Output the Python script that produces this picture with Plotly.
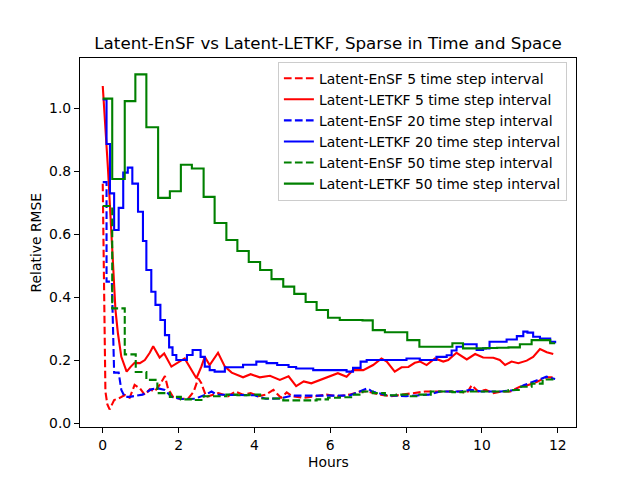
import plotly.graph_objects as go

# ─── data (hours, relative RMSE) ─────────────
# Latent-EnSF, 5 time step interval (dashed red)
ensf5_x = [0.0, 0.02, 0.04, 0.07, 0.12, 0.18, 0.3, 0.45, 0.58, 0.71,
           0.84, 0.98, 1.11, 1.24, 1.37, 1.5, 1.64, 1.72, 1.85, 2.03,
           2.25, 2.4, 2.52, 2.6, 2.73, 2.9, 3.05, 3.3, 3.5, 3.7,
           3.9, 4.1, 4.3, 4.5, 4.7, 4.85, 5.0, 5.3, 5.6, 5.9,
           6.2, 6.5, 6.8, 7.0, 7.3, 7.6, 7.9, 8.2, 8.5, 8.8,
           9.1, 9.4, 9.6, 9.73, 9.9, 10.1, 10.3, 10.5, 10.75, 11.0,
           11.2, 11.44, 11.7, 11.93]
ensf5_y = [0.76, 0.55, 0.25, 0.1, 0.06, 0.043, 0.073, 0.08, 0.089, 0.08,
           0.121, 0.11, 0.089, 0.107, 0.1, 0.121, 0.149, 0.11, 0.083, 0.077,
           0.077, 0.1, 0.142, 0.126, 0.083, 0.09, 0.095, 0.085, 0.1, 0.09,
           0.095, 0.085, 0.09, 0.105, 0.08, 0.097, 0.085, 0.08, 0.085, 0.09,
           0.085, 0.09, 0.1, 0.1, 0.09, 0.085, 0.09, 0.095, 0.1, 0.1,
           0.1, 0.1, 0.095, 0.12, 0.1, 0.105, 0.095, 0.1, 0.1, 0.115,
           0.12, 0.13, 0.145, 0.145]

# Latent-LETKF, 5 time step interval (solid red)
letkf5_x = [0.0, 0.14, 0.335, 0.36, 0.4, 0.49, 0.63, 0.74, 0.84, 0.98,
            1.11, 1.24, 1.33, 1.5, 1.62, 1.81, 2.03, 2.16, 2.34, 2.47,
            2.6, 2.69, 2.82, 3.04, 3.22, 3.4, 3.7, 3.9,
            4.14, 4.41, 4.67, 4.9, 5.1, 5.3, 5.5, 5.73, 5.99, 6.2,
            6.43, 6.6, 6.87, 7.13, 7.35, 7.49, 7.7, 7.88, 8.06, 8.23,
            8.37, 8.54, 8.76, 8.98, 9.11, 9.33, 9.6, 9.82, 10.03, 10.3,
            10.47, 10.61, 10.78, 10.96, 11.18, 11.35, 11.53, 11.71, 11.88]
letkf5_y = [1.07, 0.803, 0.359, 0.33, 0.285, 0.21, 0.163, 0.179, 0.191, 0.19,
            0.2, 0.223, 0.244, 0.208, 0.221, 0.179, 0.195, 0.205, 0.168, 0.142,
            0.179, 0.21, 0.184, 0.223, 0.179, 0.16, 0.145, 0.155,
            0.145, 0.15, 0.137, 0.148, 0.117, 0.132, 0.126, 0.137, 0.15, 0.158,
            0.147, 0.168, 0.168, 0.184, 0.205, 0.195, 0.163, 0.177, 0.178, 0.191,
            0.195, 0.184, 0.205, 0.195, 0.2, 0.223, 0.202, 0.219, 0.208, 0.207,
            0.2, 0.184, 0.195, 0.19, 0.198, 0.21, 0.235, 0.225, 0.219]

# Latent-EnSF, 20 time step interval (dashed blue)
ensf20_x = [0.0, 0.1, 0.1, 0.24, 0.3, 0.42, 0.49, 0.58, 0.71, 0.89,
            1.05, 1.28, 1.46, 1.64, 1.81, 2.08, 2.43, 2.69, 2.87, 3.0,
            3.3, 3.6, 4.0, 4.3, 4.67, 5.0, 5.5, 6.0, 6.5, 6.98,
            7.1, 7.5, 8.0, 8.6, 8.9, 9.4, 9.7, 10.0, 10.5, 10.9,
            11.1, 11.44, 11.7, 11.93]
ensf20_y = [0.765, 0.765, 0.449, 0.449, 0.16, 0.16, 0.105, 0.083, 0.083, 0.088,
            0.09, 0.107, 0.11, 0.105, 0.083, 0.076, 0.077, 0.089, 0.1, 0.09,
            0.09, 0.09, 0.088, 0.077, 0.078, 0.087, 0.087, 0.085, 0.087, 0.11,
            0.1, 0.088, 0.085, 0.09, 0.1, 0.1, 0.105, 0.1, 0.1, 0.105,
            0.12, 0.135, 0.147, 0.14]

# Latent-LETKF, 20 time step interval (solid blue, stepwise)
letkf20_x = [0.0, 0.1, 0.19, 0.3, 0.42, 0.54, 0.66, 0.78, 0.93, 1.06,
             1.15, 1.28, 1.39, 1.52, 1.64, 1.75, 1.84, 1.94, 2.22, 2.37,
             2.58, 2.69, 2.82, 2.95, 3.22, 3.7, 4.05, 4.32, 4.6, 4.9,
             5.1, 5.55, 6.43, 6.6, 6.8, 6.96, 7.49, 8.01, 8.36, 8.8,
             9.07, 9.2, 9.33, 9.5, 9.86, 10.03, 10.2, 10.65, 10.92, 11.09,
             11.2, 11.35, 11.53, 11.8, 11.93]
letkf20_y = [1.027, 0.886, 0.729, 0.613, 0.683, 0.795, 0.811, 0.76, 0.671, 0.578,
             0.486, 0.417, 0.375, 0.327, 0.279, 0.24, 0.216, 0.2, 0.216, 0.232,
             0.21, 0.179, 0.168, 0.163, 0.177, 0.185, 0.195, 0.19, 0.184, 0.178,
             0.173, 0.168, 0.163, 0.175, 0.195, 0.2, 0.2, 0.205, 0.2, 0.21,
             0.215, 0.23, 0.242, 0.25, 0.232, 0.237, 0.258, 0.265, 0.276, 0.29,
             0.287, 0.274, 0.268, 0.258, 0.253]

# Latent-EnSF, 50 time step interval (dashed green, stepwise)
ensf50_x = [0.0, 0.25, 0.58, 0.87, 1.15, 1.44, 1.77, 2.06, 2.35, 2.66,
            2.95, 3.26, 3.55, 3.85, 4.15, 4.45, 4.76, 5.05, 5.35, 5.64,
            5.94, 6.25, 6.55, 6.85, 7.12, 7.44, 7.75, 8.03, 8.35, 8.65,
            8.95, 9.22, 9.5, 9.8, 10.1, 10.4, 10.7, 11.0, 11.31, 11.6,
            11.93]
ensf50_y = [0.689, 0.364, 0.218, 0.162, 0.137, 0.095, 0.083, 0.075, 0.073, 0.085,
            0.085, 0.09, 0.088, 0.09, 0.078, 0.078, 0.072, 0.072, 0.072, 0.075,
            0.08, 0.082, 0.09, 0.1, 0.095, 0.088, 0.09, 0.085, 0.09, 0.1,
            0.1, 0.098, 0.1, 0.1, 0.1, 0.1, 0.105, 0.115, 0.125, 0.138,
            0.138]

# Latent-LETKF, 50 time step interval (solid green, stepwise)
letkf50_x = [0.0, 0.25, 0.58, 0.86, 1.15, 1.46, 1.77, 2.06, 2.35, 2.66,
             2.95, 3.26, 3.55, 3.85, 4.15, 4.45, 4.76, 5.05, 5.35, 5.64,
             5.94, 6.25, 6.55, 6.85, 7.12, 7.44, 7.75, 8.03, 8.35, 8.65,
             8.95, 9.22, 9.5, 9.8, 10.1, 10.4, 10.7, 11.0, 11.31, 11.6,
             11.8, 11.93]
letkf50_y = [1.03, 0.775, 1.022, 1.107, 0.939, 0.715, 0.736, 0.82, 0.808, 0.718,
             0.635, 0.581, 0.546, 0.511, 0.486, 0.457, 0.433, 0.41, 0.384, 0.359,
             0.334, 0.327, 0.327, 0.326, 0.295, 0.288, 0.288, 0.263, 0.242, 0.242,
             0.242, 0.253, 0.237, 0.237, 0.238, 0.239, 0.24, 0.25, 0.263, 0.263,
             0.253, 0.253]

x_ticks = [0, 2, 4, 6, 8, 10, 12]
y_ticks = [0.0, 0.2, 0.4, 0.6, 0.8, 1.0]

# ─── style ───────────────────────────────────
FONT = "DejaVu Sans"
DASH = "7.7px,3.3px"
LW = 2.1
PAGE_OFFSET = 8  # browser body margin shifts the figure by this much

series = [
    ("Latent-EnSF 5 time step interval", ensf5_x, ensf5_y, "red", DASH, "linear"),
    ("Latent-LETKF 5 time step interval", letkf5_x, letkf5_y, "red", "solid", "linear"),
    ("Latent-EnSF 20 time step interval", ensf20_x, ensf20_y, "blue", DASH, "linear"),
    ("Latent-LETKF 20 time step interval", letkf20_x, letkf20_y, "blue", "solid", "hv"),
    ("Latent-EnSF 50 time step interval", ensf50_x, ensf50_y, "green", DASH, "hv"),
    ("Latent-LETKF 50 time step interval", letkf50_x, letkf50_y, "green", "solid", "hv"),
]

fig = go.Figure()
for name, xs, ys, color, dash, shape in series:
    fig.add_trace(go.Scatter(
        x=xs, y=ys, name=name, mode="lines",
        line=dict(color=color, width=LW, dash=dash, shape=shape),
    ))

axis_common = dict(
    showgrid=False, zeroline=False,
    showline=True, linecolor="black", linewidth=1.1, mirror=True,
    ticks="outside", ticklen=5, tickwidth=1.1, tickcolor="black",
    tickfont=dict(family=FONT, size=13.9, color="black"),
)

fig.update_xaxes(range=[-0.6, 12.48], tickvals=x_ticks,
                 ticktext=[str(v) for v in x_ticks], **axis_common)
fig.update_yaxes(range=[-0.0127, 1.159], tickvals=y_ticks,
                 ticktext=[f"{v:.1f}" for v in y_ticks], **axis_common)

fig.add_annotation(text="Hours", xref="paper", yref="paper", x=0.5, y=-0.094,
                   showarrow=False, yanchor="middle",
                   font=dict(family=FONT, size=13.9, color="black"))
fig.add_annotation(text="Relative RMSE", xref="paper", yref="paper", x=-0.0907, y=0.5,
                   showarrow=False, textangle=-90, xanchor="center",
                   font=dict(family=FONT, size=13.9, color="black"))

fig.update_layout(
    title=dict(text="Latent-EnSF vs Latent-LETKF, Sparse in Time and Space",
               x=0.5, xref="paper", xanchor="center",
               y=1 - (43 - PAGE_OFFSET) / 480, yref="container", yanchor="middle",
               font=dict(family=FONT, size=16.7, color="black")),
    width=640, height=480,
    margin=dict(l=80 - PAGE_OFFSET, r=64 + PAGE_OFFSET,
                t=57.6 - PAGE_OFFSET, b=52.8 + PAGE_OFFSET),
    plot_bgcolor="white", paper_bgcolor="white",
    legend=dict(x=0.399, y=0.99, xanchor="left", yanchor="top",
                bgcolor="rgba(255,255,255,0.8)", bordercolor="#cccccc",
                borderwidth=1, font=dict(family=FONT, size=13.9, color="black")),
)

fig.write_html("out.html")
